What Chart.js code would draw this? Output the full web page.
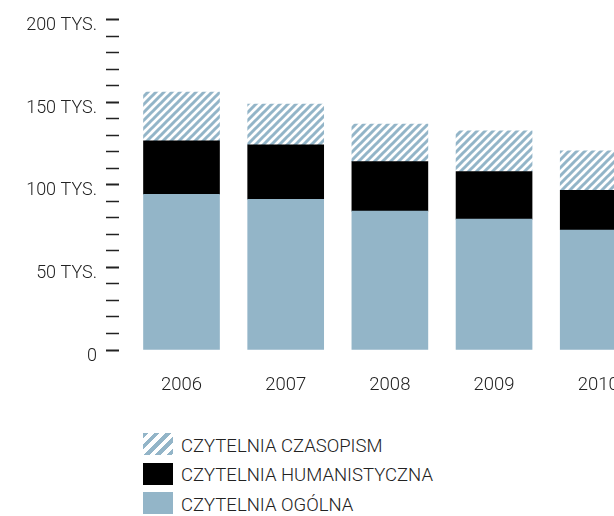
<!DOCTYPE html>
<html>
<head>
<meta charset="utf-8">
<script src="https://cdn.jsdelivr.net/npm/chart.js@4/dist/chart.umd.min.js"></script>
<style>
  body { margin: 0; overflow: hidden; background: #fff; font-family: Roboto, sans-serif; }
  #wrap { position: relative; width: 692px; height: 400px; }
  #legend { position: absolute; left: 143px; top: 433px; }
  .row { display: flex; align-items: center; height: 22px; margin-bottom: 7.5px; }
  .box { width: 30px; height: 22px; margin-right: 8px; }
  .label { font-size: 18.5px; font-weight: 300; color: #222; padding-top: 3px; }
</style>
</head>
<body>
<div id="wrap"><canvas id="chart" width="692" height="400"></canvas></div>
<div id="legend"></div>
<script>
// values in thousands of readers
const years = [2006, 2007, 2008, 2009, 2010];
const ogolna = [94.3, 91.3, 84.1, 79.3, 72.7];
const humanistyczna = [32.4, 33.0, 30.0, 28.8, 24.0];
const czasopism = [29.5, 24.6, 22.8, 24.6, 24.0];
const yLabels = ['0', '50 TYS.', '100 TYS.', '150 TYS.', '200 TYS.'];
const seriesNames = ['CZYTELNIA OGÓLNA', 'CZYTELNIA HUMANISTYCZNA', 'CZYTELNIA CZASOPISM'];

const blue = '#93b5c8';

function makeHatch() {
    const c = document.createElement('canvas');
    c.width = 8;
    c.height = 8;
    const g = c.getContext('2d');
    g.fillStyle = '#fff';
    g.fillRect(0, 0, 8, 8);
    g.strokeStyle = blue;
    g.lineWidth = 3;
    g.beginPath();
    g.moveTo(-2, 10); g.lineTo(10, -2);
    g.moveTo(-6, 6); g.lineTo(6, -6);
    g.moveTo(2, 14); g.lineTo(14, 2);
    g.stroke();
    return g.createPattern(c, 'repeat');
}

const ctx = document.getElementById('chart').getContext('2d');
const hatch = makeHatch();

const chart = new Chart(ctx, {
    type: 'bar',
    data: {
        labels: years,
        datasets: [
            { label: seriesNames[0], data: ogolna, backgroundColor: blue },
            { label: seriesNames[1], data: humanistyczna, backgroundColor: '#000' },
            { label: seriesNames[2], data: czasopism, backgroundColor: hatch }
        ]
    },
    options: {
        responsive: false,
        animation: false,
        layout: { padding: { top: 16, left: 0, right: 0, bottom: 0 } },
        plugins: { legend: { display: false }, tooltip: { enabled: false } },
        datasets: { bar: { barThickness: 76, borderWidth: 0 } },
        scales: {
            x: {
                type: 'linear',
                stacked: true,
                offset: false,
                min: 2005.4,
                max: 2010.9,
                afterFit: (scale) => { scale.height = 50; },
                grid: { display: false, drawTicks: false, offset: false },
                border: { display: false },
                ticks: {
                    stepSize: 1,
                    includeBounds: false,
                    autoSkip: false,
                    maxRotation: 0,
                    padding: 24,
                    color: '#222',
                    font: { family: 'Roboto', size: 18.5, weight: 300 },
                    callback: (v) => years.includes(v) ? String(v) : ''
                }
            },
            y: {
                stacked: true,
                min: 0,
                max: 200,
                afterFit: (scale) => { scale.width = 119; },
                grid: {
                    drawOnChartArea: false,
                    drawTicks: true,
                    tickLength: 13,
                    tickColor: '#222',
                    tickWidth: (c) => c.tick && c.tick.value % 50 === 0 ? 2 : 1.5
                },
                border: { display: false },
                ticks: {
                    stepSize: 10,
                    autoSkip: false,
                    padding: 9,
                    labelOffset: 6,
                    color: '#222',
                    font: { family: 'Roboto', size: 18, weight: 300 },
                    callback: (v) => v % 50 === 0 ? yLabels[v / 50] : ''
                }
            }
        }
    }
});

// legend, top series first
const legend = document.getElementById('legend');
const swatches = [
    blue,
    '#000',
    'repeating-linear-gradient(135deg, ' + blue + ' 0 4px, #fff 4px 8px)'
];
for (let i = seriesNames.length - 1; i >= 0; i--) {
    const row = document.createElement('div');
    row.className = 'row';
    const box = document.createElement('div');
    box.className = 'box';
    box.style.background = swatches[i];
    const text = document.createElement('div');
    text.className = 'label';
    text.textContent = seriesNames[i];
    row.appendChild(box);
    row.appendChild(text);
    legend.appendChild(row);
}
</script>
</body>
</html>
